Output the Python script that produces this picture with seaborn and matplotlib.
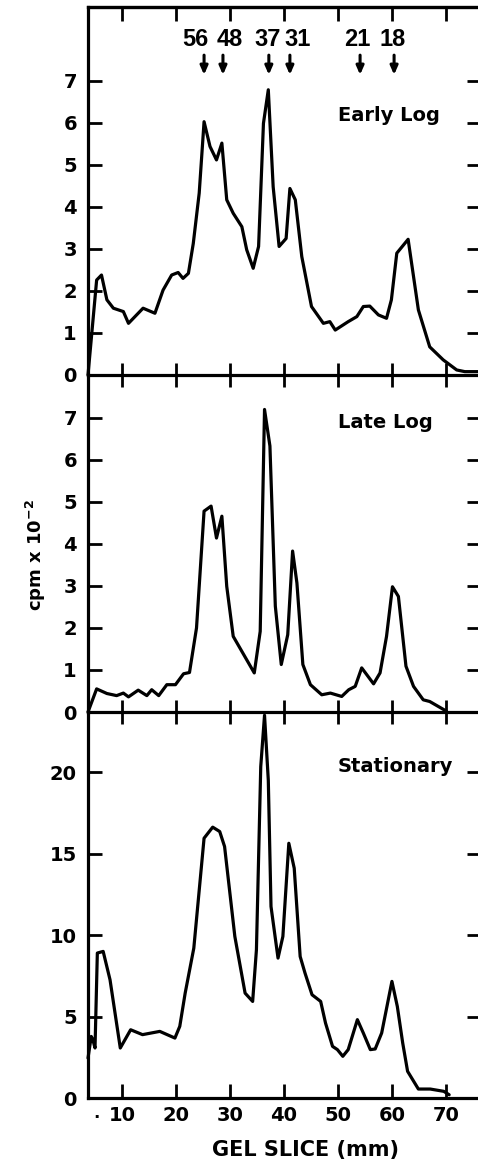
import matplotlib
matplotlib.use("Agg")
import matplotlib.pyplot as plt
import matplotlib.transforms as mtransforms
import seaborn as sns
import pandas as pd

# ---------------- data ----------------
early_x = [3.7, 4.4, 5.3, 6.2, 7.2, 8.4, 10.25, 11.2, 13.9, 16.1, 17.6, 19.2, 20.4, 21.3,
           22.3, 23.2, 24.3, 25.2, 26.3, 27.5, 28.5, 29.4, 30.6, 32.2, 33.1, 34.3, 35.3,
           36.2, 37.1, 38.0, 39.1, 40.4, 41.1, 42.1, 43.3, 45.1, 47.3, 48.5, 49.5, 51.9,
           53.5, 54.7, 55.9, 57.5, 59.0, 59.9, 60.9, 63.0, 64.9, 67.0, 69.5, 72.0, 73.5, 76.3]
early_y = [0.0, 0.99, 2.26, 2.38, 1.79, 1.59, 1.51, 1.23, 1.59, 1.47, 2.02, 2.38, 2.44, 2.30,
           2.42, 3.13, 4.33, 6.03, 5.44, 5.12, 5.52, 4.17, 3.85, 3.53, 2.98, 2.54, 3.06,
           5.99, 6.79, 4.48, 3.06, 3.25, 4.44, 4.17, 2.82, 1.63, 1.23, 1.27, 1.07, 1.27,
           1.39, 1.63, 1.64, 1.43, 1.35, 1.79, 2.90, 3.23, 1.55, 0.67, 0.36, 0.12, 0.08, 0.08]

late_x = [3.7, 5.3, 7.2, 9.0, 10.25, 11.2, 13.0, 14.6, 15.5, 16.8, 18.3, 19.9, 21.4, 22.5,
          23.8, 25.2, 26.5, 27.5, 28.5, 29.4, 30.6, 34.5, 35.6, 36.4, 37.4, 38.4, 39.5,
          40.7, 41.6, 42.4, 43.5, 44.9, 47.0, 48.6, 50.7, 52.0, 53.2, 54.4, 56.6, 57.8,
          59.0, 60.1, 61.2, 62.6, 64.0, 65.8, 67.0, 70.1]
late_y = [0.0, 0.55, 0.44, 0.39, 0.45, 0.36, 0.52, 0.39, 0.53, 0.39, 0.65, 0.65, 0.91, 0.94,
          2.0, 4.78, 4.90, 4.14, 4.66, 2.99, 1.80, 0.93, 1.92, 7.2, 6.33, 2.52, 1.13,
          1.84, 3.83, 3.07, 1.13, 0.65, 0.41, 0.45, 0.37, 0.53, 0.61, 1.05, 0.67, 0.93,
          1.80, 2.98, 2.75, 1.09, 0.61, 0.29, 0.25, 0.02]

stat_x = [3.7, 4.3, 4.6, 5.0, 5.43, 6.51, 7.78, 9.68, 11.6, 13.8, 17.0, 19.8, 20.7, 21.7,
          23.3, 25.2, 26.8, 28.1, 29.0, 30.9, 32.8, 34.2, 34.9, 35.7, 36.4, 37.1, 37.6,
          38.9, 39.8, 40.9, 41.9, 43.0, 43.9, 45.2, 46.8, 47.7, 49.0, 49.9, 50.9, 51.9,
          53.6, 54.7, 56.0, 56.9, 58.1, 60.0, 61.0, 62.0, 62.9, 64.9, 67.1, 69.6, 70.6]
stat_y = [2.45, 3.78, 3.58, 3.07, 8.90, 9.00, 7.26, 3.07, 4.19, 3.89, 4.09, 3.68, 4.40, 6.44,
          9.20, 15.95, 16.63, 16.36, 15.44, 9.92, 6.44, 5.93, 9.10, 20.35, 23.5, 19.5, 11.76,
          8.59, 9.92, 15.64, 14.11, 8.69, 7.67, 6.34, 5.93, 4.60, 3.17, 2.97, 2.56, 2.97,
          4.81, 3.99, 2.97, 3.01, 3.99, 7.16, 5.62, 3.37, 1.64, 0.55, 0.55, 0.41, 0.2]

panel_names = ["Early Log", "Late Log", "Stationary"]
x_ticks = [10, 20, 30, 40, 50, 60, 70]
x_ticklabels = ["10", "20", "30", "40", "50", "60", "70"]
mw_labels = ["56", "48", "37", "31", "21", "18"]
mw_arrow_pos = [25.2, 28.7, 37.2, 41.1, 54.1, 60.4]
mw_label_pos = [23.5, 29.9, 36.9, 42.6, 53.5, 60.2]

# ---------------- figure ----------------
sns.set_style("ticks")
plt.rcParams['font.family'] = ['DejaVu Sans']
plt.rcParams['font.weight'] = 'bold'
plt.rcParams['text.color'] = 'black'
plt.rcParams['axes.labelcolor'] = 'black'
plt.rcParams['xtick.color'] = 'black'
plt.rcParams['ytick.color'] = 'black'

W, H = 478, 1166
fig = plt.figure(figsize=(W / 100, H / 100), dpi=100)

left = 88 / W
width = (481 - 88) / W
def frac(top_px, bot_px):
    return [left, 1 - bot_px / H, width, (bot_px - top_px) / H]

ax1 = fig.add_axes(frac(7, 375))
ax2 = fig.add_axes(frac(375, 712))
ax3 = fig.add_axes(frac(712, 1098))

lw = 2.3
col = "black"
data = [(early_x, early_y), (late_x, late_y), (stat_x, stat_y)]
axes = [ax1, ax2, ax3]
ylims = [(0, 8.76), (0, 8.02), (0, 23.7)]
yticks = [list(range(0, 8)), list(range(0, 8)), [0, 5, 10, 15, 20]]

for ax, (xs, ys), yl, yt in zip(axes, data, ylims, yticks):
    df = pd.DataFrame({"x": xs, "y": ys})
    sns.lineplot(data=df, x="x", y="y", ax=ax, color=col, lw=lw, sort=False,
                 estimator=None, clip_on=False)
    ax.set_xlim(3.7, 76.5)
    ax.set_ylim(*yl)
    ax.set_yticks(yt)
    ax.set_xticks(x_ticks)
    ax.set_xlabel("")
    ax.set_ylabel("")
    for s in ax.spines.values():
        s.set_linewidth(2.3)
        s.set_color(col)
    ax.tick_params(axis="y", direction="in", length=10, width=2.0, left=True,
                   right=True, labelsize=14, pad=8, colors=col)
    ax.patch.set_alpha(0)

# x ticks
for ax in (ax1, ax2):
    ax.tick_params(axis="x", direction="inout", length=17, width=2.0,
                   labelbottom=False, bottom=True, top=False, colors=col)
ax3.tick_params(axis="x", direction="in", length=10, width=2.0, labelsize=14,
                pad=6, bottom=True, top=False, colors=col)
ax3.set_xticklabels(x_ticklabels)

ax2.spines["top"].set_visible(False)
ax3.spines["top"].set_visible(False)

# top ticks of the upper panel
sec = ax1.secondary_xaxis("top")
sec.set_xticks(x_ticks)
sec.tick_params(direction="in", length=10, width=2.0, labeltop=False, colors=col)
sec.spines["top"].set_linewidth(2.3)

ax3.set_yticklabels(["0", "5", "10", "15", "20"])

# panel names
for ax, name, yy in zip(axes, panel_names, [0.705, 0.86, 0.86]):
    ax.text(0.635, yy, name, transform=ax.transAxes, fontsize=14, color=col,
            fontweight="bold", ha="left", va="center")

# molecular weight markers
for lab, xa, xl in zip(mw_labels, mw_arrow_pos, mw_label_pos):
    ax1.annotate("", xy=(xa, 7.08), xytext=(xa, 7.68),
                 arrowprops=dict(arrowstyle="-|>,head_length=0.5,head_width=0.22",
                                 color=col, lw=2.2))
    ax1.text(xl, 7.98, lab, ha="center", va="center", fontsize=17, color=col,
             fontweight="bold", family=["Liberation Sans", "DejaVu Sans"])

# axis titles
fig.text(36 / W, 1 - 555 / H, r"cpm x 10$^{\mathbf{-2}}$", rotation=90,
         ha="center", va="center", fontsize=13, fontweight="bold", color=col)
fig.text(305 / W, 1 - 1150 / H, "GEL SLICE (mm)", ha="center", va="center",
         fontsize=15, fontweight="bold", color=col)
trans = mtransforms.blended_transform_factory(ax3.transData, ax3.transAxes)
ax3.text(5.2, -0.052, "·", transform=trans, ha="center", va="center",
         fontsize=12, fontweight="bold", color=col)

fig.savefig("out.png", dpi=100)
